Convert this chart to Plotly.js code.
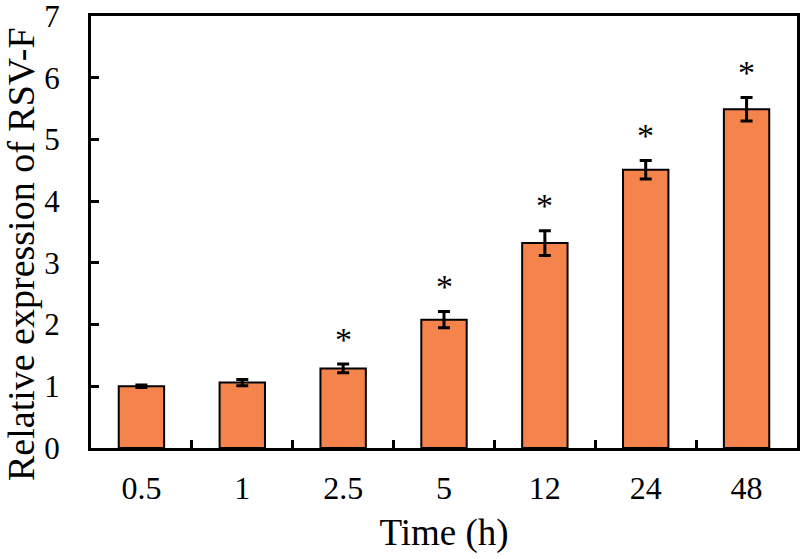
<!DOCTYPE html>
<html>
<head>
<meta charset="utf-8">
<script src="https://cdn.plot.ly/plotly-3.0.1.min.js"></script>
<style>html,body{margin:0;padding:0;background:#fff;}#chart{width:800px;height:559px;}</style>
</head>
<body>
<div id="chart"></div>
<script>
const categories = ["0.5", "1", "2.5", "5", "12", "24", "48"];
const values = [1.00, 1.06, 1.29, 2.08, 3.32, 4.51, 5.49];
const errors = [0.02, 0.05, 0.07, 0.13, 0.20, 0.15, 0.19];
const significant = [false, false, true, true, true, true, true];
const xTitle = "Time (h)";
const yTitle = "Relative expression of RSV-F";

const font = "Liberation Serif, Times New Roman, serif";

const trace = {
  type: "bar",
  x: categories,
  y: values,
  width: 0.45,
  marker: {color: "#F5844C", line: {color: "#000", width: 2}},
  error_y: {type: "data", array: errors, visible: true, color: "#000", thickness: 3, width: 6},
  hoverinfo: "none"
};

const annotations = [];
categories.forEach((c, i) => {
  if (significant[i]) {
    annotations.push({
      x: i, y: values[i] + errors[i], xref: "x", yref: "y",
      text: "*", showarrow: false, yanchor: "middle", yshift: 25,
      font: {family: font, size: 34, color: "#000"}
    });
  }
});
annotations.push({
  text: yTitle, xref: "paper", yref: "paper", x: -0.1, y: 0.45,
  xanchor: "center", yanchor: "middle", textangle: -90, showarrow: false,
  font: {family: font, size: 38, color: "#000"}
});

const layout = {
  width: 800, height: 559,
  margin: {l: 91, r: 3, t: 16, b: 111},
  paper_bgcolor: "#fff", plot_bgcolor: "#fff",
  showlegend: false,
  annotations: annotations,
  xaxis: {
    type: "category",
    range: [-0.5, 6.5],
    showline: true, linecolor: "#000", linewidth: 3, mirror: true,
    ticks: "inside", tickson: "boundaries", ticklen: 8, tickwidth: 3, tickcolor: "#000",
    ticklabelstandoff: 10, ticklabeloverflow: "allow",
    showgrid: false, zeroline: false,
    tickfont: {family: font, size: 32, color: "#000"},
    title: {text: xTitle, font: {family: font, size: 37, color: "#000"}, standoff: 14}
  },
  yaxis: {
    range: [0, 7], dtick: 1,
    showline: true, linecolor: "#000", linewidth: 3, mirror: true,
    ticks: "inside", ticklen: 8, tickwidth: 3, tickcolor: "#000",
    ticklabelstandoff: 22, ticklabeloverflow: "allow",
    showgrid: false, zeroline: false,
    tickfont: {family: font, size: 31, color: "#000"}
  }
};

Plotly.newPlot("chart", [trace], layout, {staticPlot: true});
</script>
</body>
</html>
